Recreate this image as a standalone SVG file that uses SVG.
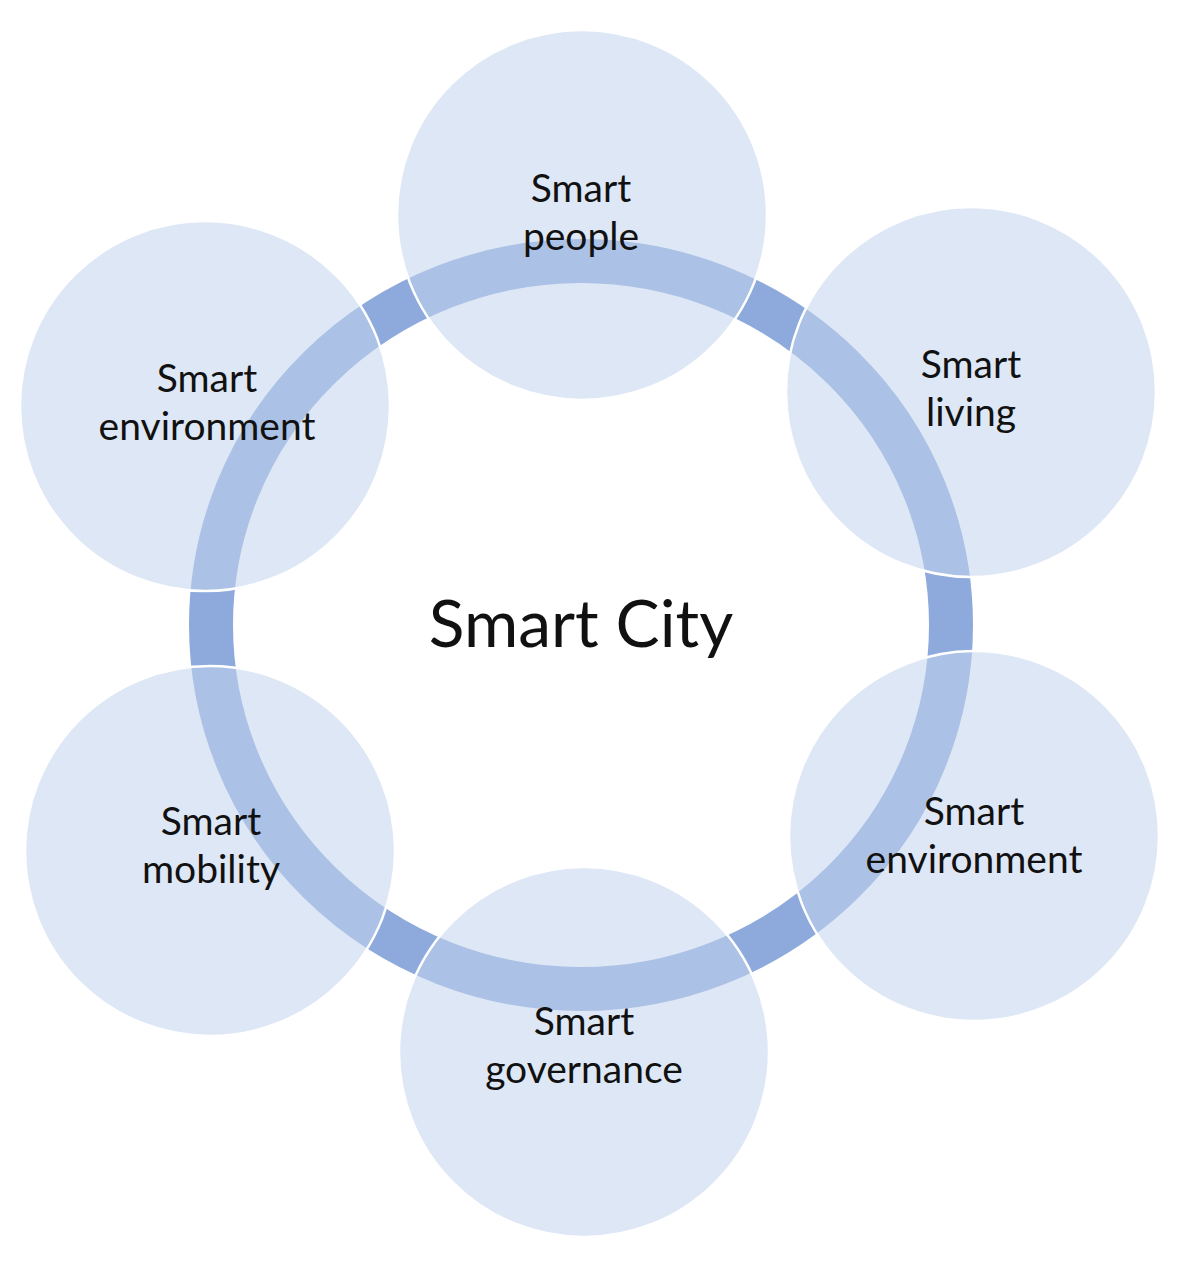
<svg xmlns="http://www.w3.org/2000/svg" width="1190" height="1261" viewBox="0 0 1190 1261">
  <style>
    .bub { fill: #c2d3ec; fill-opacity: 0.55; stroke: #ffffff; stroke-width: 2.5; }
    .lbl { font-family: Lato, "Open Sans", "Liberation Sans", sans-serif; font-size: 39px; fill: #111111; text-anchor: middle; }
    .title { font-family: Lato, "Open Sans", "Liberation Sans", sans-serif; font-size: 66px; fill: #111111; text-anchor: middle; }
  </style>
  <rect width="1190" height="1261" fill="#ffffff"/>
  <g id="ring">
    <ellipse cx="581" cy="625" rx="370" ry="364" fill="none" stroke="#8eaadc" stroke-width="44"/>
  </g>
  <g id="node-people">
    <circle class="bub" cx="582" cy="215" r="185"/>
    <text class="lbl" x="581" y="202">Smart</text>
    <text class="lbl" x="581" y="250">people</text>
  </g>
  <g id="node-living">
    <circle class="bub" cx="971" cy="392" r="185"/>
    <text class="lbl" x="971" y="378">Smart</text>
    <text class="lbl" x="971" y="426">living</text>
  </g>
  <g id="node-environment-right">
    <circle class="bub" cx="974" cy="836" r="185"/>
    <text class="lbl" x="974" y="825">Smart</text>
    <text class="lbl" x="974" y="873">environment</text>
  </g>
  <g id="node-governance">
    <circle class="bub" cx="584" cy="1052" r="185"/>
    <text class="lbl" x="584" y="1035">Smart</text>
    <text class="lbl" x="584" y="1083">governance</text>
  </g>
  <g id="node-mobility">
    <circle class="bub" cx="210" cy="851" r="185"/>
    <text class="lbl" x="211" y="835">Smart</text>
    <text class="lbl" x="211" y="883">mobility</text>
  </g>
  <g id="node-environment-left">
    <circle class="bub" cx="205" cy="406" r="185"/>
    <text class="lbl" x="207" y="392">Smart</text>
    <text class="lbl" x="207" y="440">environment</text>
  </g>
  <g id="node-center">
    <text class="title" x="581" y="647">Smart City</text>
  </g>
  <g id="connectors"></g>
</svg>
